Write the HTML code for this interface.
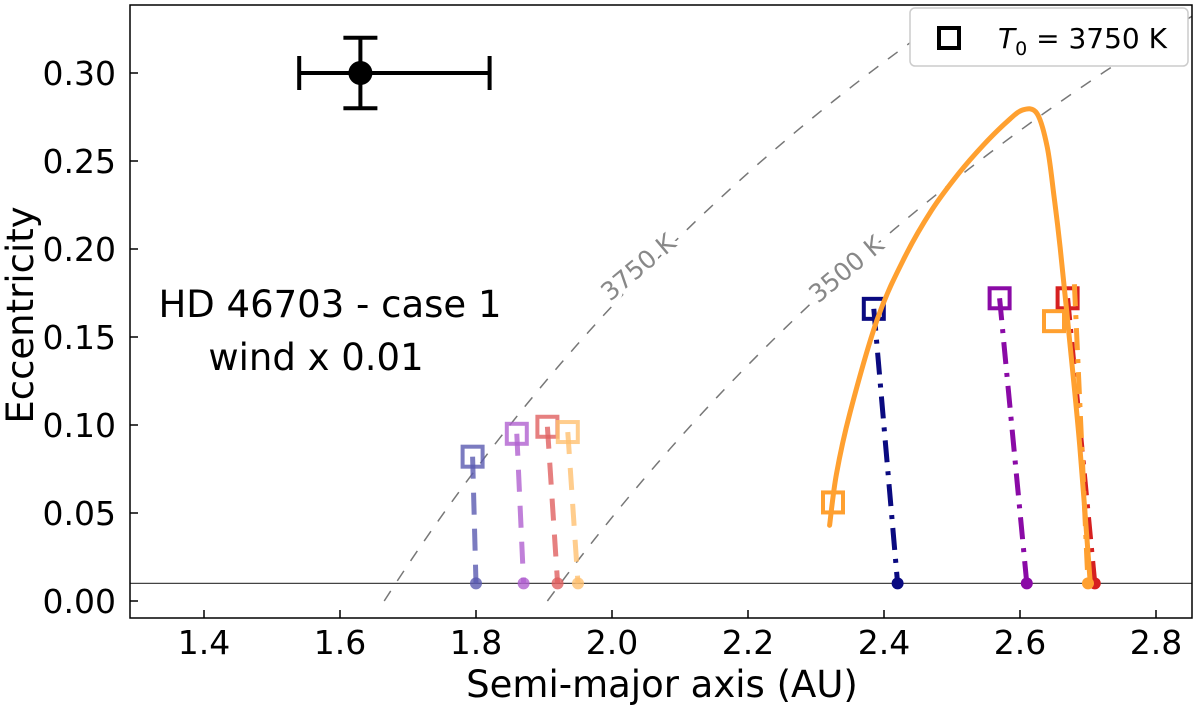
<!DOCTYPE html>
<html><head><meta charset="utf-8"><style>body{margin:0;background:#fff}svg{display:block;font-family:"DejaVu Sans","Liberation Sans",sans-serif}</style></head>
<body>
<svg id="c" width="1200" height="711"></svg>
<script>
const xTicks=[1.4,1.6,1.8,2.0,2.2,2.4,2.6,2.8];
const yTicks=[0.00,0.05,0.10,0.15,0.20,0.25,0.30];
const orangeA=[2.32,2.33,2.35,2.39,2.43,2.47,2.51,2.546,2.58,2.604,2.625,2.64,2.65,2.659,2.674,2.688,2.703];
const orangeE=[0.043,0.072,0.107,0.160,0.195,0.222,0.243,0.259,0.272,0.279,0.277,0.258,0.23,0.201,0.144,0.0875,0.012];
const tracks=[
 {name:'navy-track',c:'#0a0a80',a0:2.385,e0:0.166,a1:2.42,e1:0.01,style:'dd',op:1},
 {name:'purple-track',c:'#8a0aa6',a0:2.57,e0:0.172,a1:2.61,e1:0.01,style:'dd',op:1},
 {name:'red-track',c:'#d62020',a0:2.67,e0:0.172,a1:2.71,e1:0.01,style:'dd',op:1},
 {name:'orange-track-dd',c:'#ffa030',a0:2.68,e0:0.18,a1:2.70,e1:0.01,style:'dd',op:1,nosq:1},
 {name:'navy-track-low',c:'#5a5ab0',a0:1.795,e0:0.082,a1:1.80,e1:0.01,style:'d',op:0.8},
 {name:'purple-track-low',c:'#b060d0',a0:1.86,e0:0.095,a1:1.87,e1:0.01,style:'d',op:0.8},
 {name:'red-track-low',c:'#e06060',a0:1.905,e0:0.099,a1:1.92,e1:0.01,style:'d',op:0.8},
 {name:'orange-track-low',c:'#ffc070',a0:1.935,e0:0.096,a1:1.95,e1:0.01,style:'d',op:0.8}
];
const X=a=>204+(a-1.4)*680, Y=e=>601-e*1760;
const NS='http://www.w3.org/2000/svg', s=document.getElementById('c');
function el(t,at,p){const e=document.createElementNS(NS,t);for(const k in at)e.setAttribute(k,at[k]);(p||s).appendChild(e);return e;}
const clip=el('clipPath',{id:'cp'});el('rect',{x:130,y:5,width:1062,height:613},clip);
const g=el('g',{'clip-path':'url(#cp)'});
[[1.665,'3750'],[1.905,'3500']].forEach(([a0,lab])=>{let d='';for(let a=a0;a<=2.9;a+=0.01){d+=(d?'L':'M')+X(a)+','+Y(1-a0/a);}
 const p=el('path',{d:d,fill:'none',stroke:'#777','stroke-width':1.5,'stroke-dasharray':'12,12'},g);
 
 });
function lbl(txt,tx,ty,name){const t=el('text',{x:0,y:0,fill:'#888','font-size':25,stroke:'#fff','stroke-width':8,'paint-order':'stroke',transform:'translate('+tx+','+ty+') rotate(-40)'});t.textContent=txt;
 }
lbl('3750 K',610,302,'label-3750k');
el('line',{x1:130,x2:1192,y1:Y(0.01),y2:Y(0.01),stroke:'#444','stroke-width':1.2},g);
tracks.forEach(t=>{
 const l=el('line',{x1:X(t.a0),y1:Y(t.e0),x2:X(t.a1),y2:Y(t.e1),stroke:t.c,'stroke-width':5,'stroke-opacity':t.op,'stroke-dasharray':t.style=='dd'?'22,9,4,9':'22,14'},g);
 
 const c=el('circle',{cx:X(t.a1),cy:Y(t.e1),r:6,fill:t.c,'fill-opacity':t.op},g);
 
 if(!t.nosq){const r=el('rect',{x:X(t.a0)-10,y:Y(t.e0)-10,width:20,height:20,fill:'none',stroke:t.c,'stroke-width':4,'stroke-opacity':t.op},g);
 }
});
const P=orangeA.map((a,i)=>[X(a),Y(orangeE[i])]);
let d='M'+P[0][0]+','+P[0][1];
for(let i=0;i<P.length-1;i++){const p0=P[Math.max(0,i-1)],p1=P[i],p2=P[i+1],p3=P[Math.min(P.length-1,i+2)];
 d+='C'+(p1[0]+(p2[0]-p0[0])/6)+','+(p1[1]+(p2[1]-p0[1])/6)+' '+(p2[0]-(p3[0]-p1[0])/6)+','+(p2[1]-(p3[1]-p1[1])/6)+' '+p2[0]+','+p2[1];}
const op=el('path',{d:d,fill:'none',stroke:'#ffa030','stroke-width':5,'stroke-linejoin':'round','stroke-linecap':'round'},g);

[[2.325,0.056],[2.65,0.159]].forEach(([a,e])=>{const r=el('rect',{x:X(a)-10,y:Y(e)-10,width:20,height:20,fill:'none',stroke:'#ffa030','stroke-width':4},g);
 });
lbl('3500 K',818,304,'label-3500k');
const ob=el('g',{});
el('line',{x1:X(1.54),x2:X(1.82),y1:Y(0.3),y2:Y(0.3),stroke:'#000','stroke-width':4},ob);
el('line',{x1:X(1.54),x2:X(1.54),y1:Y(0.3)-17,y2:Y(0.3)+17,stroke:'#000','stroke-width':4},ob);
el('line',{x1:X(1.82),x2:X(1.82),y1:Y(0.3)-17,y2:Y(0.3)+17,stroke:'#000','stroke-width':4},ob);
el('line',{x1:X(1.63),x2:X(1.63),y1:Y(0.32),y2:Y(0.28),stroke:'#000','stroke-width':4},ob);
el('line',{x1:X(1.63)-17,x2:X(1.63)+17,y1:Y(0.32),y2:Y(0.32),stroke:'#000','stroke-width':4},ob);
el('line',{x1:X(1.63)-17,x2:X(1.63)+17,y1:Y(0.28),y2:Y(0.28),stroke:'#000','stroke-width':4},ob);
el('circle',{cx:X(1.63),cy:Y(0.3),r:12,fill:'#000'},ob);
el('rect',{x:130,y:5,width:1062,height:613,fill:'none',stroke:'#000','stroke-width':1.5});
xTicks.forEach(v=>{el('line',{x1:X(v),x2:X(v),y1:618,y2:610,stroke:'#000','stroke-width':1.5});
 const t=el('text',{x:X(v),y:654,'text-anchor':'middle','font-size':33});t.textContent=v.toFixed(1);
 });
yTicks.forEach(v=>{el('line',{x1:130,x2:138,y1:Y(v),y2:Y(v),stroke:'#000','stroke-width':1.5});
 const t=el('text',{x:116,y:Y(v)+12,'text-anchor':'end','font-size':33});t.textContent=v.toFixed(2);
 });
const xl=el('text',{x:662,y:697,'text-anchor':'middle','font-size':37});xl.textContent='Semi-major axis (AU)';

const yl=el('text',{x:0,y:0,'text-anchor':'middle','font-size':37,transform:'translate(33,315) rotate(-90)'});yl.textContent='Eccentricity';

const a1=el('text',{x:330,y:317,'text-anchor':'middle','font-size':37});a1.textContent='HD 46703 - case 1';

const a2=el('text',{x:316,y:370,'text-anchor':'middle','font-size':37});a2.textContent='wind x 0.01';

const lg=el('g',{});
el('rect',{x:910,y:8,width:278,height:58,rx:5,fill:'#fff',stroke:'#ccc','stroke-width':1.5},lg);
el('rect',{x:939,y:28,width:20,height:20,fill:'none',stroke:'#000','stroke-width':4},lg);
const lt=el('text',{x:998,y:48,'font-size':28},lg);lt.innerHTML='<tspan font-style="italic">T</tspan><tspan font-size="19" dy="7">0</tspan><tspan dy="-7"> = 3750 K</tspan>';
</script>
</body></html>
